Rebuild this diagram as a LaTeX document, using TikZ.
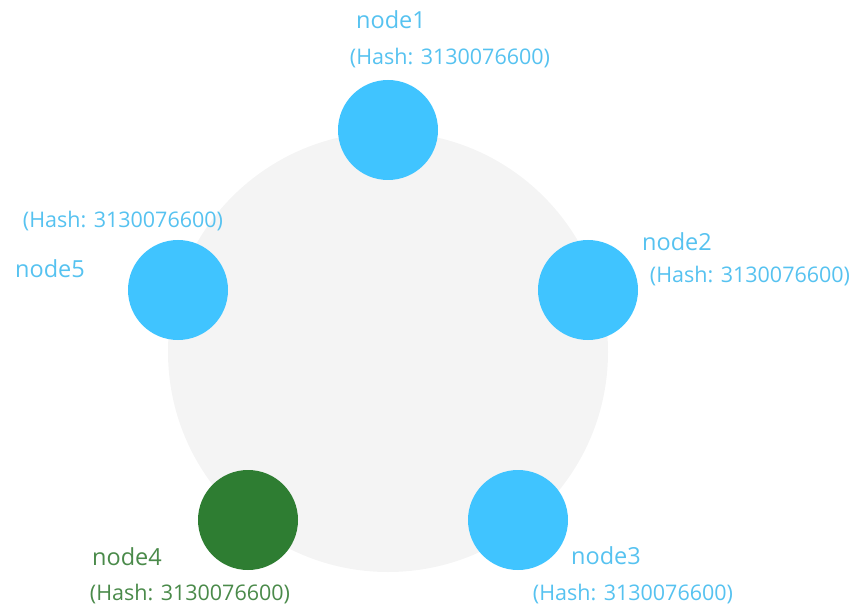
\documentclass[tikz,border=0pt]{standalone}
\usepackage{fontspec}
\setmainfont{Open Sans}
\usetikzlibrary{positioning}
\definecolor{ringgray}{HTML}{F4F4F4}
\definecolor{nodeblue}{HTML}{40C4FF}
\definecolor{nodegreen}{HTML}{2E7D32}
\definecolor{textblue}{HTML}{56C2F0}
\definecolor{textgreen}{HTML}{4A8A4A}

\begin{document}
\begin{tikzpicture}[x=1bp,y=-1bp,
  server/.style={circle,fill=nodeblue,minimum size=100bp,inner sep=0pt},
  active/.style={server,fill=nodegreen},
  srvname/.style={text=textblue,font=\fontsize{23.5bp}{26bp}\selectfont,inner sep=0pt},
  srvhash/.style={text=textblue,font=\fontsize{21.5bp}{24bp}\selectfont,inner sep=0pt}]
\useasboundingbox (0,0) rectangle (856,606);
\node[circle,fill=ringgray,minimum size=440bp,inner sep=0pt] (ring) at (388,352) {};
\node[server] (n1) at (388,130) {};
\node[server] (n2) at (588,290) {};
\node[server] (n3) at (518,520) {};
\node[active] (n4) at (248,520) {};
\node[server] (n5) at (178,290) {};
\node[srvname] (l1) at (391,20) {node1};
\node[srvhash] (h1) at (450,58) {(Hash: 3130076600)};
\node[srvname] (l2) at (677,242) {node2};
\node[srvhash] (h2) at (750,276) {(Hash: 3130076600)};
\node[srvname] (l3) at (606,556) {node3};
\node[srvhash] (h3) at (633,594) {(Hash: 3130076600)};
\node[srvname,text=textgreen] (l4) at (127,557) {node4};
\node[srvhash,text=textgreen] (h4) at (190,594) {(Hash: 3130076600)};
\node[srvname] (l5) at (50,269) {node5};
\node[srvhash] (h5) at (123,221) {(Hash: 3130076600)};
\end{tikzpicture}
\end{document}
